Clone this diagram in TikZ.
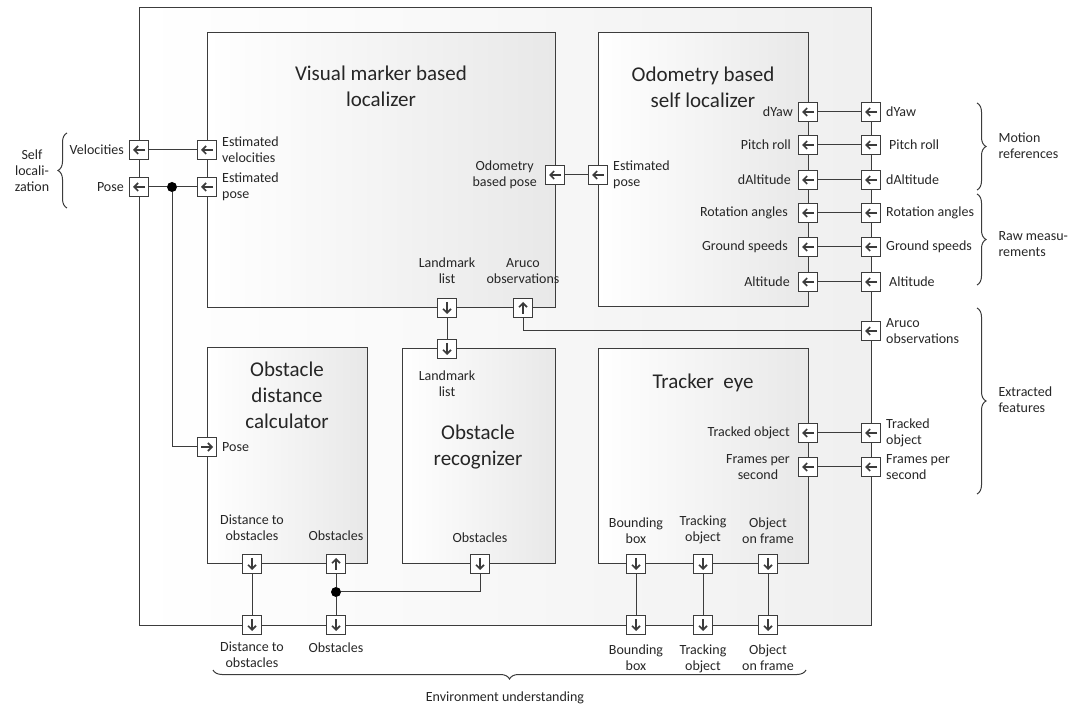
\documentclass[tikz,border=0pt]{standalone}
\usepackage{fontspec}
\setmainfont{Carlito}
\usetikzlibrary{arrows.meta, decorations.pathreplacing}
\definecolor{edgegray}{HTML}{3C3C3C}
\definecolor{textgray}{HTML}{262626}

\begin{document}
\begin{tikzpicture}[x=1pt,y=-1pt]

\tikzset{box/.style = {draw=edgegray, line width=1pt, left color=white, right color=black!9}}
\tikzset{title/.style = {font=\fontsize{21}{26}\selectfont, align=center, text=textgray}}
\tikzset{lbl/.style = {font=\fontsize{14}{16}\selectfont, align=center, text=textgray}}
\tikzset{every label/.style = {lbl, inner sep=2pt, label distance=3pt}}
\tikzset{port/.style = {draw=edgegray, fill=white, line width=1pt, minimum size=19pt, inner sep=0pt}}
\tikzset{parrow/.style = {line width=1.6pt, -{Straight Barb[length=4pt,width=8pt]}}}
\tikzset{pl/.style = {port, path picture={\draw[parrow] ([xshift=6pt]path picture bounding box.center) -- ([xshift=-6pt]path picture bounding box.center);}}}
\tikzset{pr/.style = {port, path picture={\draw[parrow] ([xshift=-6pt]path picture bounding box.center) -- ([xshift=6pt]path picture bounding box.center);}}}
\tikzset{pd/.style = {port, path picture={\draw[parrow] ([yshift=6pt]path picture bounding box.center) -- ([yshift=-6pt]path picture bounding box.center);}}}
\tikzset{pu/.style = {port, path picture={\draw[parrow] ([yshift=-6pt]path picture bounding box.center) -- ([yshift=6pt]path picture bounding box.center);}}}
\tikzset{wire/.style = {draw=edgegray, line width=1pt}}
\tikzset{junction/.style = {circle, fill=black, minimum size=10pt, inner sep=0pt}}
\tikzset{curly/.style = {draw=edgegray, line width=1pt, decorate, decoration={brace, amplitude=9pt}}}

\useasboundingbox (0,0) rectangle (1072,708);

%boxes
\node[box, right color=black!6, minimum width=732pt, minimum height=617pt] (env) at (505,316.5) {};
\node[box, minimum width=348pt, minimum height=275pt] (vm) at (381,170.5) {};
\node[box, minimum width=210pt, minimum height=274pt] (odo) at (703,170) {};
\node[box, minimum width=160pt, minimum height=216pt] (calc) at (287,456) {};
\node[box, minimum width=153pt, minimum height=215pt] (rec) at (478.5,456.5) {};
\node[box, minimum width=210pt, minimum height=215pt] (trk) at (703,456.5) {};

%titles
\node[title] (tvm) at (381,86) {Visual marker based\\localizer};
\node[title] (todo) at (703,87) {Odometry based\\self localizer};
\node[title] (tcalc) at (287,395) {Obstacle\\distance\\calculator};
\node[title] (trec) at (478,447) {Obstacle\\recognizer};
\node[title] (ttrk) at (703,383) {Tracker~~eye};

%self localization
\node[pl, label=left:Velocities] (vel) at (139,150) {};
\node[pl, label=left:Pose] (pose) at (139,187) {};
\node[pl, label={[align=left]right:Estimated\\velocities}] (evel) at (207,150) {};
\node[pl, label={[align=left]right:Estimated\\pose}] (epose) at (207,187) {};
\node[junction] (j1) at (172,187) {};
\node[pr, label=right:Pose] (cpose) at (207,447) {};

%odometry
\node[pl, label={[label distance=6pt]left:Odometry\\based pose}] (opose) at (555,175) {};
\node[pl, label={[align=left]right:Estimated\\pose}] (oepose) at (598,175) {};

\node[pl, label=left:dYaw] (iyaw) at (808,112) {};
\node[pl, label={[label distance=5pt]left:Pitch roll}] (ipr) at (808,145) {};
\node[pl, label={[label distance=5pt]left:dAltitude}] (idalt) at (808,180) {};
\node[pl, label={[label distance=8pt]left:Rotation angles}] (irot) at (808,213) {};
\node[pl, label={[label distance=8pt]left:Ground speeds}] (igs) at (808,247) {};
\node[pl, label={[label distance=6pt]left:Altitude}] (ialt) at (808,282) {};
\node[pl, label=right:dYaw] (oyaw) at (871,112) {};
\node[pl, label={[label distance=6pt]right:Pitch roll}] (opr) at (871,145) {};
\node[pl, label=right:dAltitude] (odalt) at (871,180) {};
\node[pl, label=right:Rotation angles] (orot) at (871,213) {};
\node[pl, label=right:Ground speeds] (ogs) at (871,247) {};
\node[pl, label={[label distance=6pt]right:Altitude}] (oalt) at (871,282) {};

%landmarks and aruco
\node[pd, label={[label distance=12pt]above:Landmark\\list}] (lm) at (447,308) {};
\node[pu, label={[label distance=12pt]above:Aruco\\observations}] (aru) at (523,308) {};
\node[pd, label={[label distance=10pt]below:Landmark\\list}] (lm2) at (447,349) {};
\node[pl, label={[align=left]right:Aruco\\observations}] (aru2) at (871,331) {};

%tracker
\node[pl, label={[label distance=6pt]left:Tracked object}] (tob) at (808,433) {};
\node[pl, label={[label distance=6pt]left:Frames per\\second}] (fps) at (808,467) {};
\node[pl, label={[align=left]right:Tracked\\object}] (tob2) at (871,433) {};
\node[pl, label={[align=left]right:Frames per\\second}] (fps2) at (871,467) {};

%bottom
\node[pd, label={[label distance=11pt]above:Distance to\\obstacles}] (dist) at (252,564) {};
\node[pu, label={[label distance=11pt]above:Obstacles}] (obs) at (336,564) {};
\node[pd, label={[label distance=9pt]above:Obstacles}] (obs2) at (480,564) {};
\node[junction] (j2) at (336,592) {};
\node[pd, label={[label distance=5pt]below:Distance to\\obstacles}] (dist2) at (252,625) {};
\node[pd, label={[label distance=6pt]below:Obstacles}] (obs3) at (336,625) {};
\node[pd, label={[label distance=8pt]above:Bounding\\box}] (bb) at (636,564) {};
\node[pd, label={[label distance=8pt]above:Tracking\\object}] (tro) at (703,564) {};
\node[pd, label={[label distance=8pt]above:Object\\on frame}] (onf) at (768,564) {};
\node[pd, label={[label distance=8pt]below:Bounding\\box}] (bb2) at (636,625) {};
\node[pd, label={[label distance=8pt]below:Tracking\\object}] (tro2) at (703,625) {};
\node[pd, label={[label distance=8pt]below:Object\\on frame}] (onf2) at (768,625) {};

%wires
\draw[wire] (vel) -- (evel);
\draw[wire] (pose) -- (j1) -- (epose);
\draw[wire] (j1) |- (cpose);
\draw[wire] (opose) -- (oepose);
\draw[wire] (oyaw) -- (iyaw);
\draw[wire] (opr) -- (ipr);
\draw[wire] (odalt) -- (idalt);
\draw[wire] (orot) -- (irot);
\draw[wire] (ogs) -- (igs);
\draw[wire] (oalt) -- (ialt);
\draw[wire] (lm) -- (lm2);
\draw[wire] (aru) |- (aru2);
\draw[wire] (tob2) -- (tob);
\draw[wire] (fps2) -- (fps);
\draw[wire] (dist) -- (dist2);
\draw[wire] (obs) -- (j2) -- (obs3);
\draw[wire] (j2) -| (obs2);
\draw[wire] (bb) -- (bb2);
\draw[wire] (tro) -- (tro2);
\draw[wire] (onf) -- (onf2);

%braces
\coordinate (sl1) at (67,208);
\coordinate (sl2) at (67,133);
\coordinate (mr1) at (977,103);
\coordinate (mr2) at (977,190);
\coordinate (rm1) at (977,194);
\coordinate (rm2) at (977,285);
\coordinate (ef1) at (977,308);
\coordinate (ef2) at (977,494);
\coordinate (eu1) at (806,670);
\coordinate (eu2) at (213,670);
\draw[curly] (sl1) -- (sl2);
\draw[curly] (mr1) -- (mr2);
\draw[curly] (rm1) -- (rm2);
\draw[curly] (ef1) -- (ef2);
\draw[curly] (eu1) -- (eu2);
\node[lbl] (tsl) at (32,171) {Self\\locali-\\zation};
\node[lbl, anchor=west, align=left] (tmr) at (995,146) {Motion\\references};
\node[lbl, anchor=west, align=left] (trm) at (995,244) {Raw measu-\\rements};
\node[lbl, anchor=west, align=left] (tef) at (995,400) {Extracted\\features};
\node[lbl] (teu) at (505,698) {Environment understanding};

\end{tikzpicture}
\end{document}
